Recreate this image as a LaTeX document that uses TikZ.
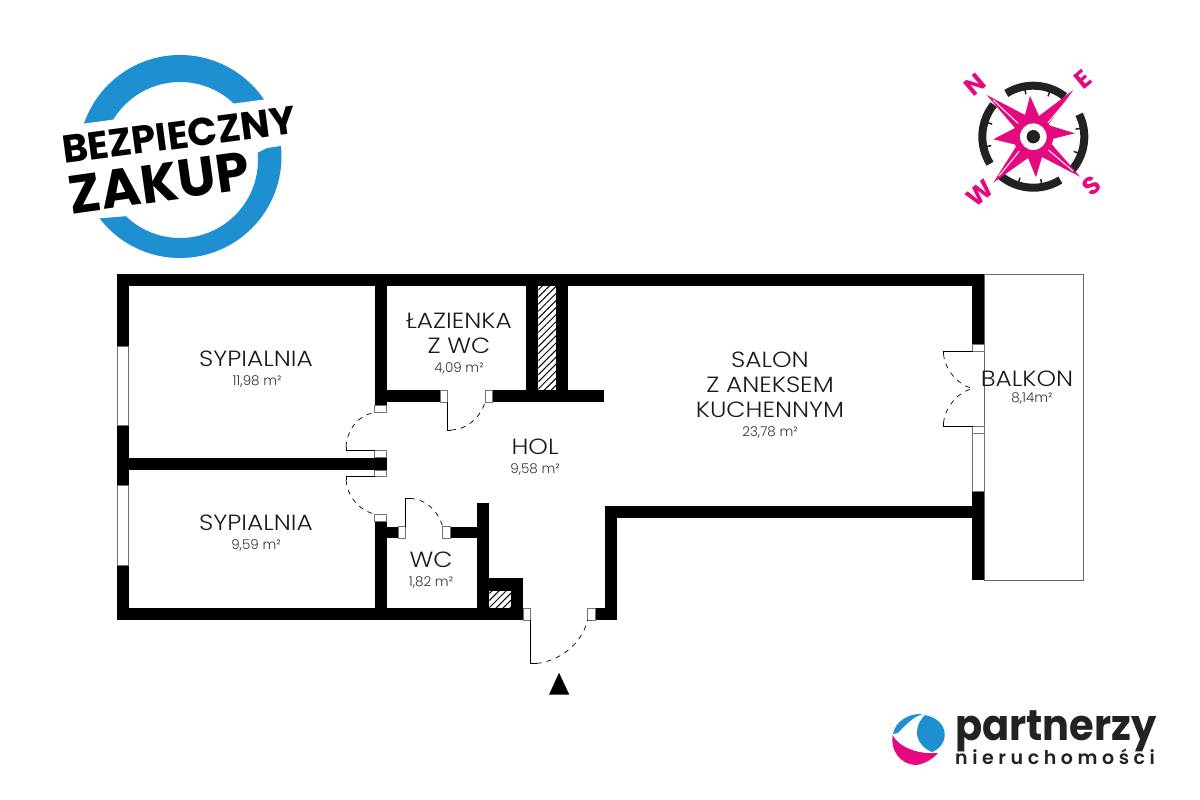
\documentclass[tikz,border=0pt]{standalone}
\usepackage{fontspec}
\setmainfont{Poppins}[UprightFont=* Light,BoldFont=* Bold]
\newfontfamily\heavyfont{Poppins}[UprightFont=* Bold]
\newfontfamily\spacedfont{Poppins}[UprightFont=* SemiBold,LetterSpace=24]
\usetikzlibrary{patterns.meta}
\definecolor{ringblue}{HTML}{1E90D2}
\definecolor{starpink}{HTML}{E5097F}
\definecolor{logodark}{HTML}{222222}
\tikzset{
	wall/.style={fill=black},
	frame/.style={draw=black!55, fill=white, line width=0.7pt},
	leaf/.style={draw=black, line width=0.7pt},
	swing/.style={draw=black, line width=0.7pt, dash pattern=on 5pt off 5pt},
	chase/.style={pattern={Lines[angle=45,distance=5pt,line width=1pt]}},
	roomname/.style={font=\fontsize{22}{25}\selectfont, align=center, text=black!90, xscale=1.13, inner sep=0, yshift=-1pt},
	roomarea/.style={font=\fontsize{13.5}{15}\selectfont, text=black!80, inner sep=0, yshift=-1pt},
	compassletter/.style={font=\heavyfont\fontsize{25}{25}\selectfont, text=starpink, rotate=40, inner sep=0}
}
\begin{document}
\begin{tikzpicture}[x=1pt,y=-1pt]
	\useasboundingbox (0,0) rectangle (1200,800);
	%%%%% BALCONY %%%%%
	\draw[draw=black!60, line width=0.8pt] (984,274) rectangle (1083,580);
	
	%%%%% WALLS %%%%%
	\fill[wall] (117,274) rectangle (984,286.3);
	\fill[wall] (117,274) rectangle (128.7,620);
	\fill[wall] (117,608) rectangle (523.3,620);
	\fill[wall] (972.3,274) rectangle (984,344);
	\fill[wall] (972.3,491.7) rectangle (984,580);
	\fill[wall] (604.5,506) rectangle (984,518.3);
	\fill[wall] (604.5,506) rectangle (616.5,620);
	\fill[wall] (595,608) rectangle (616.5,620);
	\fill[wall] (128,457.7) rectangle (386.7,470);
	\fill[wall] (374.5,286) rectangle (386.7,405);
	\fill[wall] (386,390) rectangle (440,402.3);
	\fill[wall] (492.7,390) rectangle (604.3,402.3);
	\fill[wall] (526,286) rectangle (538.3,390);
	\fill[wall] (556,286) rectangle (568.3,390);
	\fill[wall] (374.5,521.7) rectangle (386.5,608);
	\fill[wall] (386,526.7) rectangle (398,538.3);
	\fill[wall] (450.7,526.7) rectangle (477,538.3);
	\fill[wall] (477,503.3) rectangle (489.3,608);
	\fill[wall] (489,578.3) rectangle (523.3,608);
	
	%%%%% SHAFTS %%%%%
	\fill[white] (538.3,286.3) rectangle (556,390);
	\fill[chase] (538.3,286.3) rectangle (556,390);
	\fill[white] (489.3,591) rectangle (511,607.7);
	\fill[chase] (489.3,591) rectangle (511,607.7);
	
	%%%%% WINDOWS AND FRAMES %%%%%
	\draw[frame] (117,346.7) rectangle (128.7,425);
	\draw[frame] (117,485) rectangle (128.7,565);
	\draw[frame] (972.5,426) rectangle (984,491.7);
	\draw[frame] (972.5,433) -- (984,433);
	\draw[frame] (972.5,344) rectangle (984,351.5);
	\draw[frame] (374.5,405) rectangle (386.7,412.7);
	\draw[frame] (374.5,450) rectangle (386.7,457.7);
	\draw[frame] (374.5,470) rectangle (386.7,476.7);
	\draw[frame] (374.5,514) rectangle (386.5,521.7);
	\draw[frame] (440,390) rectangle (447.7,402.3);
	\draw[frame] (485,390) rectangle (492.7,402.3);
	\draw[frame] (398,526.7) rectangle (405.7,538.3);
	\draw[frame] (442.7,526.7) rectangle (450.7,538.3);
	\draw[frame] (523.3,608) rectangle (530.5,620);
	\draw[frame] (587.5,608) rectangle (595,620);
	
	%%%%% DOORS %%%%%
	\draw[leaf] (447.7,402) -- (447.7,430) -- (451,430);
	\draw[swing] (451,430) .. controls (466,430) and (480,418) .. (485,402.5);
	\draw[leaf] (346,447) -- (346,450) -- (374.5,450);
	\draw[swing] (346,447) .. controls (347,430) and (358,415) .. (374.5,412.7);
	\draw[leaf] (346,480) -- (346,476.7) -- (374.5,476.7);
	\draw[swing] (346,480) .. controls (347,495) and (358,510) .. (374.5,514);
	\draw[leaf] (405.7,526.7) -- (405.7,498.3) -- (410,498.3);
	\draw[swing] (410,498.3) .. controls (425,499) and (438,510) .. (442.7,526.7);
	\draw[leaf] (530.4,620) -- (530.4,663.3) -- (536.7,663.3);
	\draw[swing] (536.7,663.3) .. controls (557,662) and (582,645) .. (587.5,620);
	\draw[leaf] (972.5,351.3) -- (943.5,351.3) -- (943.5,354);
	\draw[swing] (943.5,354) .. controls (945,370) and (958,385) .. (972.7,388.5);
	\draw[leaf] (972.5,426) -- (943.5,426) -- (943.5,423);
	\draw[swing] (943.5,423) .. controls (945,407) and (958,392) .. (972.7,388.5);
	\fill[black] (559,672.7) -- (569.3,694.7) -- (549,694.7) -- cycle;
	
	%%%%% ROOM LABELS %%%%%
	\node[roomname] (bedroomA) at (256,358) {SYPIALNIA};
	\node[roomarea] (bedroomAarea) at (257,381) {11,98 m²};
	\node[roomname] (bedroomB) at (256,522) {SYPIALNIA};
	\node[roomarea] (bedroomBarea) at (256,545) {9,59 m²};
	\node[roomname] (bath) at (459,332.5) {ŁAZIENKA\\Z WC};
	\node[roomarea] (batharea) at (459,368) {4,09 m²};
	\node[roomname] (salon) at (770,384) {SALON\\Z ANEKSEM\\KUCHENNYM};
	\node[roomarea] (salonarea) at (770,432) {23,78 m²};
	\node[roomname] (hall) at (535,446) {HOL};
	\node[roomarea] (hallarea) at (535,469) {9,58 m²};
	\node[roomname] (toilet) at (431,559) {WC};
	\node[roomarea] (toiletarea) at (431,582) {1,82 m²};
	\node[roomname] (balcony) at (1027,378) {BALKON};
	\node[roomarea] (balconyarea) at (1032,398) {8,14m²};
	
	%%%%% BADGE %%%%%
	\fill[ringblue, even odd rule] (180,156.5) circle (101.5) (180,160) circle (78);
	\fill[white] (60,127) -- (88,123) -- (268,99) -- (300,95) -- (300,143) -- (287,145) -- (267,148) -- (128,216) -- (103,218) -- (60,224) -- cycle;
	\node[font=\heavyfont\fontsize{39}{39}\selectfont, rotate=7.5, inner sep=0] (badgetop) at (179,135) {BEZPIECZNY};
	\node[font=\heavyfont\fontsize{54}{54}\selectfont, rotate=8, inner sep=0] (badgebottom) at (159,183) {ZAKUP};
	
	%%%%% COMPASS %%%%%
	\draw[logodark, line width=8pt] (1033.3,136.7) ++(58:51) arc (58:130:51);
	\draw[logodark, line width=8pt] (1033.3,136.7) ++(40:51) arc (40:-26:51);
	\draw[logodark, line width=8pt] (1033.3,136.7) ++(-52:51) arc (-52:-122:51);
	\draw[logodark, line width=8pt] (1033.3,136.7) ++(148:51) arc (148:219:51);
	\foreach \a in {108,80,20,-10,-70,-100,168,197}
		\draw[logodark, line width=1.5pt] (1033.3,136.7) ++(\a:48) -- ++(\a:-5);
	\fill[starpink] (986.7,95) -- (1025,115) -- (1030,96) -- (1039,116) -- (1073.3,90) -- (1048,125) -- (1075,133.3) -- (1048,140) -- (1080,176.7) -- (1042,157) -- (1036,177.3) -- (1028,158) -- (993.3,182.7) -- (1017,145) -- (993.3,139.3) -- (1015,128) -- cycle;
	\draw[white, line width=1pt] (993,100) -- (1022,127);
	\draw[white, line width=1pt] (1068,99) -- (1046,125);
	\draw[white, line width=1pt] (1073,171) -- (1046,148);
	\draw[white, line width=1pt] (999,176) -- (1021,149);
	\fill[starpink] (1033.3,136.7) circle (20);
	\fill[white] (1033.3,136.7) circle (13.3);
	\fill[logodark] (1033.3,136.7) circle (6.7);
	\node[compassletter] (north) at (975,85) {N};
	\node[compassletter] (east) at (1083.3,79.3) {E};
	\node[compassletter] (south) at (1091.7,186) {S};
	\node[compassletter] (west) at (980,193.3) {W};
	
	%%%%% AGENCY LOGO %%%%%
	\fill[starpink] (892.7,735) .. controls (897,745) and (915,755) .. (938,753) .. controls (930,762) and (920,765) .. (915,765) .. controls (900,764) and (890,750) .. (892.7,735) -- cycle;
	\fill[ringblue] (925,715) .. controls (950,720) and (950,745) .. (932,752) .. controls (915,745) and (912,728) .. (925,715) -- cycle;
	\fill[ringblue] (893,734) .. controls (895,722) and (908,713) .. (923,714) .. controls (915,716) and (908,722) .. (898,733) -- cycle;
	\node[font=\heavyfont\fontsize{43}{43}\selectfont, text=logodark, inner sep=0, anchor=base west, xscale=0.93] (brand) at (955,740) {partnerzy};
	\node[font=\spacedfont\fontsize{19}{19}\selectfont, text=logodark, inner sep=0, anchor=base west] (brandsub) at (955,764) {nieruchomości};
\end{tikzpicture}
\end{document}
